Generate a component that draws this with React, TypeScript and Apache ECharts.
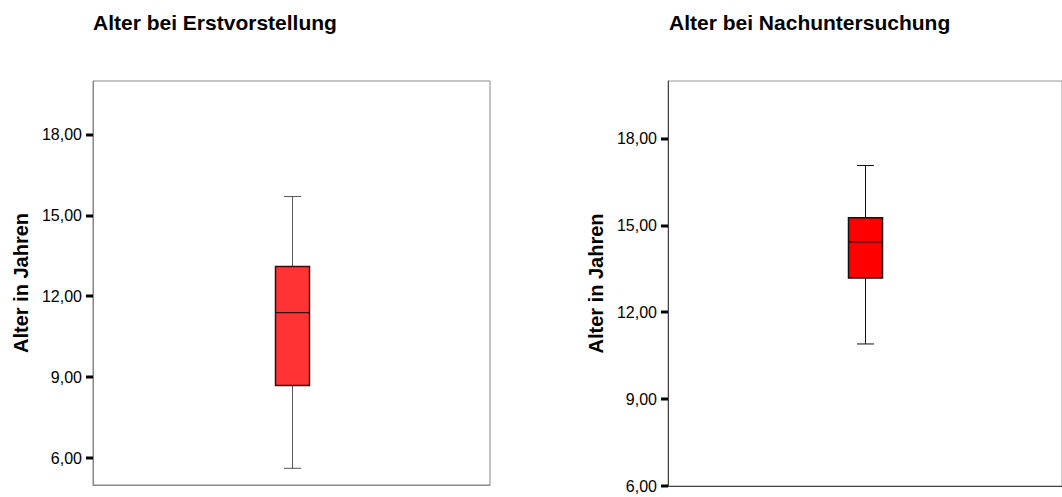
import React, { useEffect, useRef } from "react";
import * as echarts from "echarts";

// Titles of the two panels
const panelTitles = ["Alter bei Erstvorstellung", "Alter bei Nachuntersuchung"];
const axisName = "Alter in Jahren";

// Box statistics: [min, Q1, median, Q3, max]
const erstStats = [5.62, 8.69, 11.4, 13.11, 15.71];
const nachStats = [10.91, 13.19, 14.44, 15.27, 17.08];

// Axis ranges and tick values
const erstRange = [5, 20];
const nachRange = [6, 20];
const tickValues = [6, 9, 12, 15, 18];

const FONT = 'Arial, "Liberation Sans", sans-serif';

const fmt = (v: number) => v.toFixed(2).replace(".", ",");

function makeRenderItem(fill: string, border: string, whisker: string) {
  return (params: any, api: any) => {
    const x = api.value(0);
    const yMin = api.coord([x, api.value(1)])[1];
    const yQ1 = api.coord([x, api.value(2)])[1];
    const yMed = api.coord([x, api.value(3)])[1];
    const yQ3 = api.coord([x, api.value(4)])[1];
    const yMax = api.coord([x, api.value(5)])[1];
    const cx = Math.round(api.coord([x, api.value(3)])[0]) + 0.5;
    const bw = 34;
    const cw = 17;
    return {
      type: "group",
      children: [
        { type: "line", shape: { x1: cx, y1: yMax, x2: cx, y2: yQ3 }, style: { stroke: whisker, lineWidth: 1 } },
        { type: "line", shape: { x1: cx, y1: yQ1, x2: cx, y2: yMin }, style: { stroke: whisker, lineWidth: 1 } },
        { type: "line", shape: { x1: cx - cw / 2, y1: yMax, x2: cx + cw / 2, y2: yMax }, style: { stroke: whisker, lineWidth: 1 } },
        { type: "line", shape: { x1: cx - cw / 2, y1: yMin, x2: cx + cw / 2, y2: yMin }, style: { stroke: whisker, lineWidth: 1 } },
        { type: "rect", shape: { x: cx - bw / 2, y: yQ3, width: bw, height: yQ1 - yQ3 }, style: { fill, stroke: border, lineWidth: 1.5 } },
        { type: "line", shape: { x1: cx - bw / 2, y1: yMed, x2: cx + bw / 2, y2: yMed }, style: { stroke: border, lineWidth: 1.2 } },
      ],
    };
  };
}

// bold tick marks at the axis, positioned through the y scale
const tickRenderItem = (params: any, api: any) => {
  const y = Math.round(api.coord([0, api.value(0)])[1]);
  const x0 = params.coordSys.x;
  return {
    type: "line",
    shape: { x1: x0 - 7, y1: y, x2: x0, y2: y },
    style: { stroke: "#000", lineWidth: 3 },
  };
};

function yAxisCfg(gridIndex: number, range: number[], lineColor: string) {
  return {
    type: "value",
    gridIndex,
    min: range[0],
    max: range[1],
    splitLine: { show: false },
    axisLine: { show: true, lineStyle: { color: lineColor, width: 1 } },
    axisTick: { show: false },
    axisLabel: { customValues: tickValues, formatter: fmt, color: "#000", fontSize: 16, fontFamily: FONT, margin: 11 },
    name: axisName,
    nameLocation: "middle",
    nameGap: 62,
    nameTextStyle: { color: "#000", fontSize: 20, fontWeight: "bold", fontFamily: FONT },
  };
}

function xAxisCfg(gridIndex: number, lineColor: string) {
  return {
    type: "category",
    gridIndex,
    data: [""],
    axisLine: { show: true, lineStyle: { color: lineColor, width: 1 } },
    axisTick: { show: false },
    axisLabel: { show: false },
    splitLine: { show: false },
  };
}

export default function App() {
  const ref = useRef<HTMLDivElement>(null);
  useEffect(() => {
    if (!ref.current) return;
    const chart = echarts.init(ref.current, null, { renderer: "svg" });
    chart.setOption({
      animation: false,
      backgroundColor: "#fff",
      title: [
        { text: panelTitles[0], left: 93, top: 12, padding: 0, textStyle: { fontSize: 21, fontWeight: "bold", color: "#000", fontFamily: FONT } },
        { text: panelTitles[1], left: 669, top: 12, padding: 0, textStyle: { fontSize: 21, fontWeight: "bold", color: "#000", fontFamily: FONT } },
      ],
      grid: [
        { left: 93, top: 81, width: 397, height: 404, show: true, borderColor: "#888", borderWidth: 1, containLabel: false },
        { left: 668, top: 81, width: 400, height: 405, show: true, borderColor: "#999", borderWidth: 1, containLabel: false },
      ],
      xAxis: [xAxisCfg(0, "#888"), xAxisCfg(1, "#444")],
      yAxis: [yAxisCfg(0, erstRange, "#888"), yAxisCfg(1, nachRange, "#444")],
      series: [
        {
          type: "custom",
          name: "ticks1",
          xAxisIndex: 0,
          yAxisIndex: 0,
          renderItem: tickRenderItem,
          data: tickValues.map((v) => [v]),
          encode: { y: 0 },
          clip: false,
          silent: true,
        },
        {
          type: "custom",
          name: "ticks2",
          xAxisIndex: 1,
          yAxisIndex: 1,
          renderItem: tickRenderItem,
          data: tickValues.map((v) => [v]),
          encode: { y: 0 },
          clip: false,
          silent: true,
        },
        {
          type: "custom",
          name: panelTitles[0],
          xAxisIndex: 0,
          yAxisIndex: 0,
          renderItem: makeRenderItem("#FF3333", "#3d0a0a", "#555"),
          data: [[0, ...erstStats]],
          encode: { x: 0, y: [1, 2, 3, 4, 5] },
          clip: false,
        },
        {
          type: "custom",
          name: panelTitles[1],
          xAxisIndex: 1,
          yAxisIndex: 1,
          renderItem: makeRenderItem("#FF0000", "#111", "#111"),
          data: [[0, ...nachStats]],
          encode: { x: 0, y: [1, 2, 3, 4, 5] },
          clip: false,
        },
      ],
    });
    return () => chart.dispose();
  }, []);
  return (
    <div
      ref={ref}
      style={{ position: "fixed", left: 0, top: 0, width: 1062, height: 497, background: "#fff" }}
    />
  );
}
